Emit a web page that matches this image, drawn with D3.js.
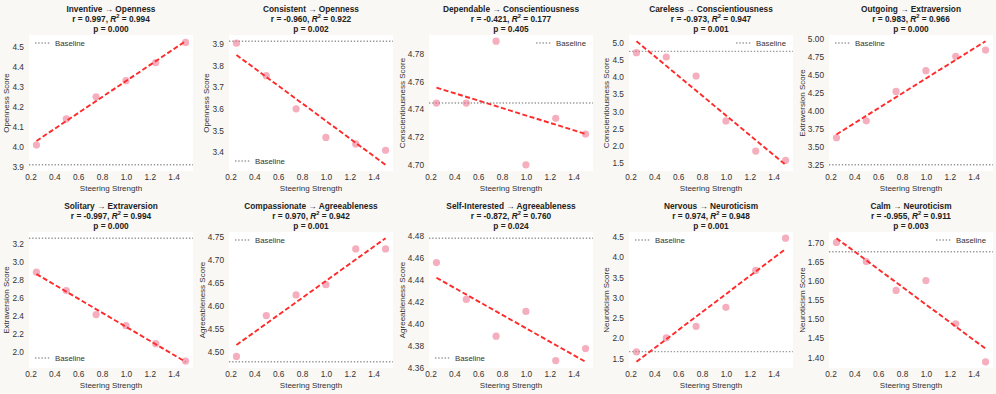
<!DOCTYPE html>
<html>
<head>
<meta charset="utf-8">
<script src="https://cdn.jsdelivr.net/npm/d3@7"></script>
<style>
  body { margin: 0; background: #f9f8f4; }
  svg { display: block; font-family: "Liberation Sans", Arial, sans-serif; }
</style>
</head>
<body>
<svg width="996" height="394"></svg>
<script>
// steering strengths (x) shared by every panel
const strengths = [0.25, 0.5, 0.75, 1.0, 1.25, 1.5];

const traits = ["Inventive", "Consistent", "Dependable", "Careless", "Outgoing",
                "Solitary", "Compassionate", "Self-Interested", "Nervous", "Calm"];
const dimensions = ["Openness", "Openness", "Conscientiousness", "Conscientiousness", "Extraversion",
                    "Extraversion", "Agreeableness", "Agreeableness", "Neuroticism", "Neuroticism"];

// scores
const scores = [
  [4.01, 4.14, 4.25, 4.33, 4.42, 4.52],
  [3.903, 3.753, 3.60, 3.468, 3.438, 3.409],
  [4.7444, 4.7444, 4.7889, 4.700, 4.7334, 4.7221],
  [4.717, 4.59, 4.035, 2.72, 1.84, 1.568],
  [3.629, 3.864, 4.27, 4.557, 4.755, 4.843],
  [2.887, 2.682, 2.414, 2.291, 2.089, 1.896],
  [4.4896, 4.5783, 4.6233, 4.6454, 4.723, 4.723],
  [4.4559, 4.4223, 4.3887, 4.4113, 4.3664, 4.3774],
  [1.664, 2.008, 2.295, 2.762, 3.672, 4.467],
  [1.700, 1.650, 1.575, 1.6006, 1.488, 1.3887]
];
const baselines = [3.912, 3.912, 4.7444, 4.756, 3.255, 3.267, 4.478, 4.4782, 1.672, 1.6756];

const rValues  = ["0.997", "-0.960", "-0.421", "-0.973", "0.983", "-0.997", "0.970", "-0.872", "0.974", "-0.955"];
const r2Values = ["0.994", "0.922", "0.177", "0.947", "0.966", "0.994", "0.942", "0.760", "0.948", "0.911"];
const pValues  = ["0.000", "0.002", "0.405", "0.001", "0.000", "0.000", "0.001", "0.024", "0.001", "0.003"];

const xTicks = [0.2, 0.4, 0.6, 0.8, 1.0, 1.2, 1.4];
const yTicks = [
  [3.9, 4.0, 4.1, 4.2, 4.3, 4.4, 4.5],
  [3.4, 3.5, 3.6, 3.7, 3.8, 3.9],
  [4.70, 4.72, 4.74, 4.76, 4.78],
  [1.5, 2.0, 2.5, 3.0, 3.5, 4.0, 4.5, 5.0],
  [3.25, 3.50, 3.75, 4.00, 4.25, 4.50, 4.75, 5.00],
  [2.0, 2.2, 2.4, 2.6, 2.8, 3.0, 3.2],
  [4.50, 4.55, 4.60, 4.65, 4.70, 4.75],
  [4.36, 4.38, 4.40, 4.42, 4.44, 4.46, 4.48],
  [1.5, 2.0, 2.5, 3.0, 3.5, 4.0, 4.5],
  [1.40, 1.45, 1.50, 1.55, 1.60, 1.65, 1.70]
];
const yDecimals = [1, 1, 2, 1, 2, 1, 2, 2, 1, 2];

// layout
const colLeft = [29, 229, 429, 629, 829];
const rowTop = [35, 232];
const plotW = 164, plotH = 136;
const legendCorner = ["ul", "ll", "ur", "ur", "ul", "ll", "ul", "ll", "ul", "ur"];

const svg = d3.select("svg");
svg.append("rect").attr("width", 996).attr("height", 394).attr("fill", "#f9f8f4");

function pad(ext) {
  const d = (ext[1] - ext[0]) * 0.05;
  return [ext[0] - d, ext[1] + d];
}

function fit(xs, ys) {
  const mx = d3.mean(xs), my = d3.mean(ys);
  let sxy = 0, sxx = 0;
  xs.forEach((x, i) => { sxy += (x - mx) * (ys[i] - my); sxx += (x - mx) ** 2; });
  const b = sxy / sxx;
  return x => my + b * (x - mx);
}

traits.forEach((trait, i) => {
  const row = Math.floor(i / 5), col = i % 5;
  const left = colLeft[col], top = rowTop[row];
  const ys = scores[i];
  const line = fit(strengths, ys);
  const xEnds = d3.extent(strengths);

  const x = d3.scaleLinear().domain(pad(xEnds)).range([left, left + plotW]);
  const yExt = d3.extent(ys.concat([line(xEnds[0]), line(xEnds[1]), baselines[i]]));
  const y = d3.scaleLinear().domain(pad(yExt)).range([top + plotH, top]);

  const g = svg.append("g");
  g.append("rect").attr("x", left).attr("y", top).attr("width", plotW).attr("height", plotH).attr("fill", "#fff");

  // baseline
  g.append("line")
    .attr("x1", left).attr("x2", left + plotW)
    .attr("y1", y(baselines[i])).attr("y2", y(baselines[i]))
    .attr("stroke", "#9a9a9a").attr("stroke-width", 1.4).attr("stroke-dasharray", "1.4,1.8");

  // points
  g.selectAll("circle").data(ys).enter().append("circle")
    .attr("cx", (d, j) => x(strengths[j]))
    .attr("cy", d => y(d))
    .attr("r", 3.6)
    .attr("fill", "#ec6b86").attr("fill-opacity", 0.55);

  // regression line
  g.append("line")
    .attr("x1", x(xEnds[0])).attr("y1", y(line(xEnds[0])))
    .attr("x2", x(xEnds[1])).attr("y2", y(line(xEnds[1])))
    .attr("stroke", "#ff2a2a").attr("stroke-width", 1.9).attr("stroke-dasharray", "5,2.5");

  // axes
  const yAxis = g.append("g").attr("transform", `translate(${left},0)`)
    .call(d3.axisLeft(y).tickValues(yTicks[i]).tickFormat(d3.format("." + yDecimals[i] + "f")).tickSize(0).tickPadding(5));
  const xAxis = g.append("g").attr("transform", `translate(0,${top + plotH})`)
    .call(d3.axisBottom(x).tickValues(xTicks).tickFormat(d3.format(".1f")).tickSize(0).tickPadding(3));
  [yAxis, xAxis].forEach(a => {
    a.select(".domain").remove();
    a.selectAll("text").attr("fill", "#333").attr("font-size", 8.3).attr("font-family", "Liberation Sans, Arial, sans-serif");
  });

  const yb = yAxis.node().getBBox();
  g.append("text")
    .attr("transform", `translate(${left + yb.x - 3},${top + plotH / 2}) rotate(-90)`)
    .attr("text-anchor", "middle").attr("font-size", 8).attr("fill", "#333")
    .text(dimensions[i] + " Score");

  g.append("text")
    .attr("x", left + plotW / 2).attr("y", top + plotH + 20)
    .attr("text-anchor", "middle").attr("font-size", 8).attr("fill", "#333")
    .text("Steering Strength");

  // title
  const cx = left + plotW / 2, ty = row * 197;
  const t = g.append("text").attr("text-anchor", "middle").attr("font-size", 8.3)
    .attr("font-weight", "bold").attr("fill", "#222");
  t.append("tspan").attr("x", cx).attr("y", ty + 11.5).text(trait + " \u2192 " + dimensions[i]);
  const l2 = t.append("tspan").attr("x", cx).attr("y", ty + 21.5);
  l2.append("tspan").text("r = " + rValues[i] + ", ");
  l2.append("tspan").attr("font-style", "italic").text("R");
  l2.append("tspan").attr("font-size", 5.8).attr("dy", -3.3).text("2");
  l2.append("tspan").attr("dy", 3.3).text(" = " + r2Values[i]);
  t.append("tspan").attr("x", cx).attr("y", ty + 31.5).text("p = " + pValues[i]);

  // legend
  const corner = legendCorner[i];
  const lg = g.append("g");
  const lt = lg.append("text").attr("font-size", 7.8).attr("fill", "#333").attr("dy", "0.35em").text("Baseline");
  const tw = lt.node().getComputedTextLength();
  const ly = corner[0] === "u" ? top + 8 : top + plotH - 10;
  const lx = corner[1] === "l" ? left + 6 : left + plotW - 7 - tw - 20;
  lg.append("line").attr("x1", lx).attr("x2", lx + 15).attr("y1", ly).attr("y2", ly)
    .attr("stroke", "#9a9a9a").attr("stroke-width", 1.4).attr("stroke-dasharray", "1.4,1.8");
  lt.attr("x", lx + 20).attr("y", ly);
});
</script>
</body>
</html>
